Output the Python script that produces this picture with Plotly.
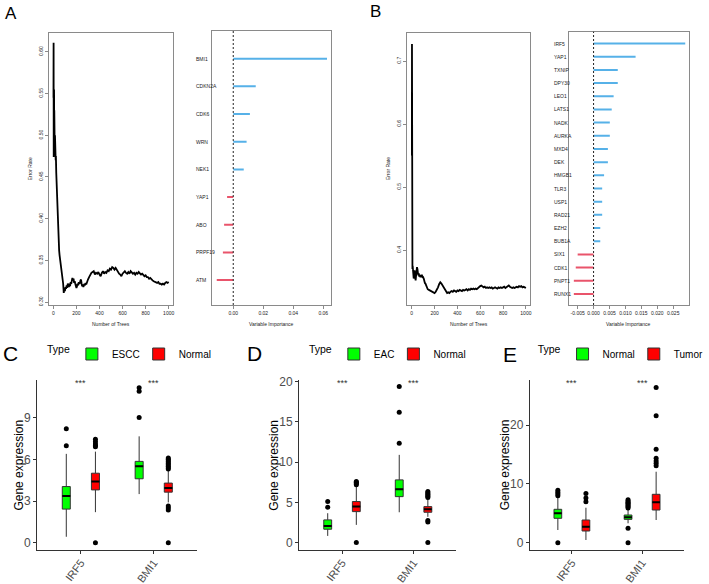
import plotly.graph_objects as go

W, H = 709, 584
FONT = "Liberation Sans"

# ---------------- Panel A / B : random forest error rate ----------------
A_TREES = [1, 2, 3, 4, 5, 6, 7, 8, 9, 10,
           12, 14, 16, 18, 20, 22, 25, 28, 31, 34,
           37, 40, 43, 46, 50, 54, 58, 62, 66, 70,
           75, 80, 85, 90, 95, 100, 105, 110, 115, 120,
           125, 130, 135, 140, 145, 150, 155, 160, 165, 170,
           175, 180, 185, 190, 195, 200, 205, 210, 215, 220,
           225, 230, 235, 240, 245, 250, 255, 260, 265, 270,
           275, 280, 285, 290, 300, 310, 320, 330, 340, 350,
           360, 370, 380, 390, 400, 410, 420, 430, 440, 450,
           460, 470, 480, 490, 500, 510, 520, 530, 540, 550,
           560, 570, 580, 590, 600, 610, 620, 630, 640, 650,
           660, 670, 680, 690, 700, 710, 720, 730, 740, 750,
           760, 770, 780, 790, 800, 810, 820, 830, 840, 850,
           860, 870, 880, 890, 900, 910, 920, 930, 940, 950,
           960, 970, 980, 990, 1000]
A_ERR = [0.545, 0.611, 0.474, 0.578, 0.500, 0.555, 0.490, 0.530, 0.500, 0.510,
         0.480, 0.500, 0.475, 0.490, 0.470, 0.475, 0.455, 0.440, 0.430, 0.415,
         0.400, 0.390, 0.380, 0.372, 0.362, 0.356, 0.352, 0.346, 0.342, 0.338,
         0.332, 0.326, 0.322, 0.311, 0.315, 0.313, 0.318, 0.316, 0.320, 0.317,
         0.322, 0.321, 0.318, 0.322, 0.319, 0.324, 0.322, 0.327, 0.329, 0.326,
         0.328, 0.323, 0.325, 0.322, 0.320, 0.317, 0.319, 0.322, 0.320, 0.324,
         0.322, 0.323, 0.326, 0.327, 0.322, 0.319, 0.321, 0.318, 0.320, 0.322,
         0.320, 0.323, 0.321, 0.324, 0.327, 0.330, 0.333, 0.335, 0.336, 0.337,
         0.333, 0.335, 0.334, 0.336, 0.333, 0.331, 0.335, 0.337, 0.334, 0.336,
         0.335, 0.338, 0.337, 0.340, 0.339, 0.342, 0.341, 0.339, 0.341, 0.338,
         0.336, 0.334, 0.333, 0.331, 0.334, 0.336, 0.337, 0.335, 0.334, 0.336,
         0.334, 0.337, 0.336, 0.334, 0.335, 0.333, 0.335, 0.334, 0.336, 0.334,
         0.333, 0.334, 0.332, 0.331, 0.332, 0.330, 0.330, 0.328, 0.329, 0.327,
         0.326, 0.325, 0.324, 0.324, 0.323, 0.324, 0.322, 0.322, 0.321, 0.322,
         0.321, 0.323, 0.324, 0.323, 0.324]

B_TREES = [1, 2, 3, 4, 5, 6, 8, 10, 12, 14,
           17, 20, 25, 28, 31, 34, 38, 42, 46, 50,
           54, 58, 62, 66, 70, 76, 82, 90, 95, 100,
           105, 110, 115, 120, 125, 130, 140, 150, 160, 170,
           180, 190, 200, 210, 220, 230, 240, 250, 260, 270,
           280, 290, 300, 310, 320, 330, 340, 350, 360, 370,
           380, 390, 400, 410, 420, 430, 440, 450, 460, 470,
           480, 490, 500, 510, 520, 530, 540, 550, 560, 570,
           580, 590, 600, 610, 620, 630, 640, 650, 660, 670,
           680, 690, 700, 710, 720, 730, 740, 750, 760, 770,
           780, 790, 800, 810, 820, 830, 840, 850, 860, 870,
           880, 890, 900, 910, 920, 930, 940, 950, 960, 970,
           980, 990, 1000]
B_ERR = [0.550, 0.727, 0.400, 0.390, 0.384, 0.370, 0.375, 0.363, 0.360, 0.363,
         0.355, 0.358, 0.368, 0.360, 0.355, 0.352, 0.360, 0.365, 0.373, 0.370,
         0.364, 0.360, 0.363, 0.358, 0.360, 0.357, 0.360, 0.360, 0.356, 0.357,
         0.355, 0.350, 0.348, 0.347, 0.344, 0.340, 0.338, 0.337, 0.336, 0.335,
         0.334, 0.333, 0.332, 0.334, 0.337, 0.341, 0.346, 0.349, 0.347, 0.344,
         0.340, 0.337, 0.334, 0.332, 0.333, 0.332, 0.334, 0.335, 0.334, 0.336,
         0.335, 0.334, 0.336, 0.335, 0.337, 0.336, 0.335, 0.337, 0.336, 0.337,
         0.338, 0.336, 0.338, 0.337, 0.339, 0.338, 0.339, 0.338, 0.339, 0.338,
         0.340, 0.341, 0.343, 0.344, 0.343, 0.341, 0.342, 0.340, 0.341, 0.340,
         0.341, 0.340, 0.341, 0.339, 0.340, 0.341, 0.340, 0.339, 0.341, 0.340,
         0.341, 0.340, 0.341, 0.342, 0.340, 0.341, 0.343, 0.344, 0.342, 0.341,
         0.340, 0.341, 0.340, 0.341, 0.342, 0.341, 0.343, 0.342, 0.343, 0.341,
         0.342, 0.341, 0.340]

TREE_TICKS = [0, 200, 400, 600, 800, 1000]
A_ERR_TICKS = [0.30, 0.35, 0.40, 0.45, 0.50, 0.55, 0.60]
B_ERR_TICKS = [0.4, 0.5, 0.6, 0.7]

# ---------------- Panel A / B : variable importance ----------------
A_GENES = ["BMI1", "CDKN2A", "CDK6", "WRN", "NEK1", "YAP1", "ABO", "PRPF19", "ATM"]
A_IMP = [0.0625, 0.0150, 0.0111, 0.0089, 0.0070, -0.0041, -0.0061, -0.0069, -0.0110]
A_IMP_TICKS = [0.00, 0.02, 0.04, 0.06]
A_IMP_TICKTEXT = ["0.00", "0.02", "0.04", "0.06"]

B_GENES = ["IRF5", "YAP1", "TXNIP", "DPY30", "LEO1", "LATS1", "NADK", "AURKA", "MXD4", "DEK",
           "HMGB1", "TLR3", "USP1", "RAD21", "EZH2", "BUB1A", "SIX1", "CDK1", "PNPT1", "RUNX1"]
B_IMP = [0.0288, 0.0132, 0.0076, 0.0076, 0.0063, 0.0057, 0.0051, 0.0051, 0.0045, 0.0045,
         0.0033, 0.0027, 0.0027, 0.0027, 0.0021, 0.0021, -0.0050, -0.0056, -0.0062, -0.0062]
B_IMP_TICKS = [-0.005, 0.000, 0.005, 0.010, 0.015, 0.020, 0.025]
B_IMP_TICKTEXT = ["-0.005", "0.000", "0.005", "0.010", "0.015", "0.020", "0.025"]

# ---------------- Panels C / D / E : boxplots ----------------
BOX_GENES = ["IRF5", "BMI1"]
# five-number summaries per gene: [lower whisker, Q1, median, Q3, upper whisker]
C_NAMES = ["ESCC", "Normal"]
C_G1_BOX = [[0.43, 2.42, 3.37, 4.04, 6.39], [3.50, 4.60, 5.50, 5.85, 7.65]]
C_G1_OUT = [[6.98, 8.20], [9.00, 10.90, 11.15]]
C_G2_BOX = [[2.20, 3.80, 4.40, 5.00, 6.55], [2.90, 3.64, 3.93, 4.29, 5.24]]
C_G2_OUT = [[0.0, 6.90, 7.00, 7.10, 7.27, 7.44],
            [0.0, 2.35, 2.50, 2.65, 5.30, 5.40, 5.50, 5.60, 5.70, 5.80, 5.90, 6.00, 6.10]]
C_YTICKS = [0, 3, 6, 9]

D_NAMES = ["EAC", "Normal"]
D_G1_BOX = [[0.83, 1.66, 2.07, 2.82, 3.65], [3.77, 5.71, 6.63, 7.79, 10.90]]
D_G1_OUT = [[4.40, 5.10], [12.35, 16.20, 19.38]]
D_G2_BOX = [[2.20, 3.85, 4.47, 5.10, 7.04], [3.20, 3.77, 4.15, 4.47, 5.50]]
D_G2_OUT = [[0.0, 7.20, 7.35, 7.50, 7.60],
            [0.0, 2.55, 2.75, 5.60, 5.75, 5.90, 6.05, 6.20, 6.35]]
D_YTICKS = [0, 5, 10, 15, 20]

E_NAMES = ["Normal", "Tumor"]
E_G1_BOX = [[2.16, 4.15, 5.00, 5.68, 7.80], [3.30, 3.97, 4.31, 4.71, 5.68]]
E_G1_OUT = [[0.0, 8.00, 8.30, 8.60, 8.90],
            [0.0, 2.45, 5.90, 6.10, 6.30, 6.50, 6.70, 6.90, 7.10, 7.30]]
E_G2_BOX = [[0.46, 1.99, 2.72, 3.86, 5.95], [3.86, 5.56, 6.87, 8.23, 12.07]]
E_G2_OUT = [[6.97, 7.60, 8.35], [13.1, 13.5, 13.9, 14.35, 15.9, 21.6, 26.4]]
E_YTICKS = [0, 10, 20]

GREEN = "#00FF00"
RED = "#FF0000"
BLUE_BAR = "#56B1E8"
RED_BAR = "#E9546B"


def xd(a, b):
    return [a / W, b / W]


def yd(top, bottom):
    return [1 - bottom / H, 1 - top / H]


fig = go.Figure()
annotations = []
shapes = []

R_BOX = "#8a8a8a"
tiny = dict(family=FONT, size=5, color="#222")


def r_axis_common():
    return dict(showline=True, mirror=True, linecolor=R_BOX, linewidth=1, showgrid=False,
                zeroline=False, ticks="outside", ticklen=3, tickcolor=R_BOX, tickwidth=0.8,
                tickfont=tiny, automargin=False)


# ---- error rate panels ----
def error_panel(idx, trees, err, xdom, ydom, yr, yticks, ytext):
    xa = "xaxis" if idx == 1 else f"xaxis{idx}"
    ya = "yaxis" if idx == 1 else f"yaxis{idx}"
    fig.add_trace(go.Scatter(x=trees, y=err, mode="lines", line=dict(color="black", width=1.8),
                             xaxis=f"x{idx}" if idx > 1 else "x", yaxis=f"y{idx}" if idx > 1 else "y",
                             showlegend=False, hoverinfo="skip"))
    fig.layout[xa] = dict(domain=xdom, range=[-39, 1040], tickvals=TREE_TICKS, tickangle=0,
                          anchor=f"y{idx}" if idx > 1 else "y", **r_axis_common())
    fig.layout[ya] = dict(domain=ydom, range=yr, tickvals=yticks, ticktext=ytext, tickangle=-90,
                          anchor=f"x{idx}" if idx > 1 else "x", **r_axis_common())


assert len(A_TREES) == len(A_ERR) and len(B_TREES) == len(B_ERR)
error_panel(1, A_TREES, A_ERR, xd(50, 177.3), yd(32.7, 305), [0.2965, 0.623],
            A_ERR_TICKS, [f"{v:.2f}" for v in A_ERR_TICKS])
error_panel(3, B_TREES, B_ERR, xd(416.7, 542.7), yd(33.3, 305), [0.313, 0.744],
            B_ERR_TICKS, [f"{v:.1f}" for v in B_ERR_TICKS])


# ---- importance panels ----
def importance_panel(idx, genes, imp, xdom, ydom, xr, yr, ticks, ticktext, label_x):
    n = len(genes)
    ypos = [n - i for i in range(n)]
    for sign, col in ((1, BLUE_BAR), (-1, RED_BAR)):
        xs, ys = [], []
        for v, yy in zip(imp, ypos):
            if (v > 0) == (sign > 0):
                xs += [0, v, None]
                ys += [yy, yy, None]
        fig.add_trace(go.Scatter(x=xs, y=ys, mode="lines", line=dict(color=col, width=2),
                                 xaxis=f"x{idx}", yaxis=f"y{idx}", showlegend=False,
                                 hoverinfo="skip"))
    fig.layout[f"xaxis{idx}"] = dict(domain=xdom, range=xr, tickvals=ticks, ticktext=ticktext,
                                     tickangle=0, anchor=f"y{idx}", **r_axis_common())
    yc = r_axis_common()
    yc.update(ticks="", showticklabels=False)
    fig.layout[f"yaxis{idx}"] = dict(domain=ydom, range=yr, anchor=f"x{idx}", **yc)
    shapes.append(dict(type="line", xref=f"x{idx}", yref=f"y{idx} domain", x0=0, x1=0, y0=0, y1=1,
                       line=dict(color="#222", width=1, dash="2px,2px")))
    for g, yy in zip(genes, ypos):
        annotations.append(dict(text=g, x=label_x / W, xref="paper", y=yy, yref=f"y{idx}",
                                xanchor="left", yanchor="middle", showarrow=False, font=tiny))


importance_panel(2, A_GENES, A_IMP, xd(217.3, 339), yd(31, 305), [-0.0139, 0.0654],
                 [0.1, 10.0], A_IMP_TICKS, A_IMP_TICKTEXT, 198)
importance_panel(4, B_GENES, B_IMP, xd(582.3, 705.3), yd(31.7, 305), [-0.00767, 0.0301],
                 [0.16, 20.9], B_IMP_TICKS, B_IMP_TICKTEXT, 565)

# R axis titles
for txt, x, y, ang in [("Error Rate", 31, 169, -90), ("Number of Trees", 113.5, 324, 0),
                       ("Variable Importance", 278, 324, 0),
                       ("Error Rate", 397, 169, -90), ("Number of Trees", 480, 324, 0),
                       ("Variable Importance", 643.5, 324, 0)]:
    annotations.append(dict(text=txt, x=x / W, y=1 - y / H, xref="paper", yref="paper",
                            showarrow=False, textangle=ang, font=tiny,
                            xanchor="center", yanchor="middle"))

# ---- boxplot panels ----
OFFSET = 0.2
BOXW = 0.11
GG_AX = "#333333"
GG_TXT = "#4d4d4d"


def box_panel(idx, names, g1_box, g1_out, g2_box, g2_out, xdom, ydom, yr, yticks,
              legend_name, leg_x, leg_y):
    cats = [i + 1 for i in range(len(BOX_GENES))]
    for gi, (name, boxes, outs, col) in enumerate(((names[0], g1_box, g1_out, GREEN),
                                                     (names[1], g2_box, g2_out, RED))):
        pos = [c + (OFFSET if gi else -OFFSET) for c in cats]
        fig.add_trace(go.Box(
            x=pos, lowerfence=[b[0] for b in boxes], q1=[b[1] for b in boxes],
            median=[b[2] for b in boxes], q3=[b[3] for b in boxes],
            upperfence=[b[4] for b in boxes], width=BOXW, whiskerwidth=0,
            fillcolor=col, line=dict(color=GG_AX, width=1), boxpoints=False,
            name=name, legend=legend_name, xaxis=f"x{idx}", yaxis=f"y{idx}",
            hoverinfo="skip"))
        # thick median lines
        mx, my = [], []
        for p, b in zip(pos, boxes):
            mx += [p - BOXW / 2, p + BOXW / 2, None]
            my += [b[2], b[2], None]
        fig.add_trace(go.Scatter(x=mx, y=my, mode="lines", line=dict(color="black", width=2),
                                 showlegend=False, xaxis=f"x{idx}", yaxis=f"y{idx}",
                                 hoverinfo="skip"))
        ox, oy = [], []
        for p, o in zip(pos, outs):
            ox += [p] * len(o)
            oy += o
        fig.add_trace(go.Scatter(x=ox, y=oy, mode="markers",
                                 marker=dict(color="black", size=5),
                                 showlegend=False, xaxis=f"x{idx}", yaxis=f"y{idx}",
                                 hoverinfo="skip"))
    fig.layout[f"xaxis{idx}"] = dict(domain=xdom, range=[0.4, 2.6], tickvals=cats,
                                     ticktext=BOX_GENES, tickangle=-53,
                                     showline=True, linecolor=GG_AX, linewidth=1.1,
                                     ticks="outside", ticklen=3, tickcolor=GG_AX,
                                     ticklabelstandoff=-2,
                                     tickfont=dict(family=FONT, size=11, color=GG_TXT),
                                     showgrid=False, zeroline=False, anchor=f"y{idx}",
                                     automargin=False)
    fig.layout[f"yaxis{idx}"] = dict(domain=ydom, range=yr, tickvals=yticks,
                                     showline=True, linecolor=GG_AX, linewidth=1.1,
                                     ticks="outside", ticklen=3, tickcolor=GG_AX,
                                     tickfont=dict(family=FONT, size=12, color=GG_TXT),
                                     showgrid=False, zeroline=False, anchor=f"x{idx}",
                                     automargin=False)
    for c in cats:
        annotations.append(dict(text="***", x=c, xref=f"x{idx}", y=1, yref=f"y{idx} domain",
                                showarrow=False, yanchor="middle", yshift=-3,
                                font=dict(family=FONT, size=9, color=GG_AX)))
    fig.layout[legend_name] = dict(
        title=dict(text="Type", side="left", font=dict(family=FONT, size=10.5, color="black")),
        orientation="h", x=leg_x / W, y=1 - leg_y / H, xanchor="left", yanchor="middle",
        font=dict(family=FONT, size=10, color="black"), bgcolor="rgba(0,0,0,0)",
        itemwidth=30, tracegroupgap=0, indentation=-6)


box_panel(5, C_NAMES, C_G1_BOX, C_G1_OUT, C_G2_BOX, C_G2_OUT, xd(38, 202), yd(380, 550),
          [-0.52, 11.7], C_YTICKS, "legend", 46, 354)
box_panel(6, D_NAMES, D_G1_BOX, D_G1_OUT, D_G2_BOX, D_G2_OUT, xd(306, 467), yd(380, 550),
          [-0.92, 20.2], D_YTICKS, "legend2", 314, 354)
box_panel(7, E_NAMES, E_G1_BOX, E_G1_OUT, E_G2_BOX, E_G2_OUT, xd(542, 700), yd(380, 550),
          [-1.24, 27.67], E_YTICKS, "legend3", 548, 354)

for x in (19, 280, 517):
    annotations.append(dict(text="Gene expression", x=x / W, y=1 - 465 / H, xref="paper",
                            yref="paper", showarrow=False, textangle=-90,
                            font=dict(family=FONT, size=12, color="black"),
                            xanchor="center", yanchor="middle"))

# panel letters
for txt, x, y, s in [("A", 11, 14, 17), ("B", 384, 12, 17), ("C", 11, 353, 21),
                     ("D", 260, 353, 21), ("E", 522, 354, 21)]:
    annotations.append(dict(text=txt, x=x / W, y=1 - y / H, xref="paper", yref="paper",
                            showarrow=False, xanchor="center", yanchor="middle",
                            font=dict(family=FONT, size=s, color="black")))

fig.update_layout(width=W, height=H, margin=dict(l=0, r=0, t=0, b=0),
                  paper_bgcolor="white", plot_bgcolor="white", template="none",
                  boxmode="overlay", annotations=annotations, shapes=shapes,
                  font=dict(family=FONT))
fig.write_html("out.html")
